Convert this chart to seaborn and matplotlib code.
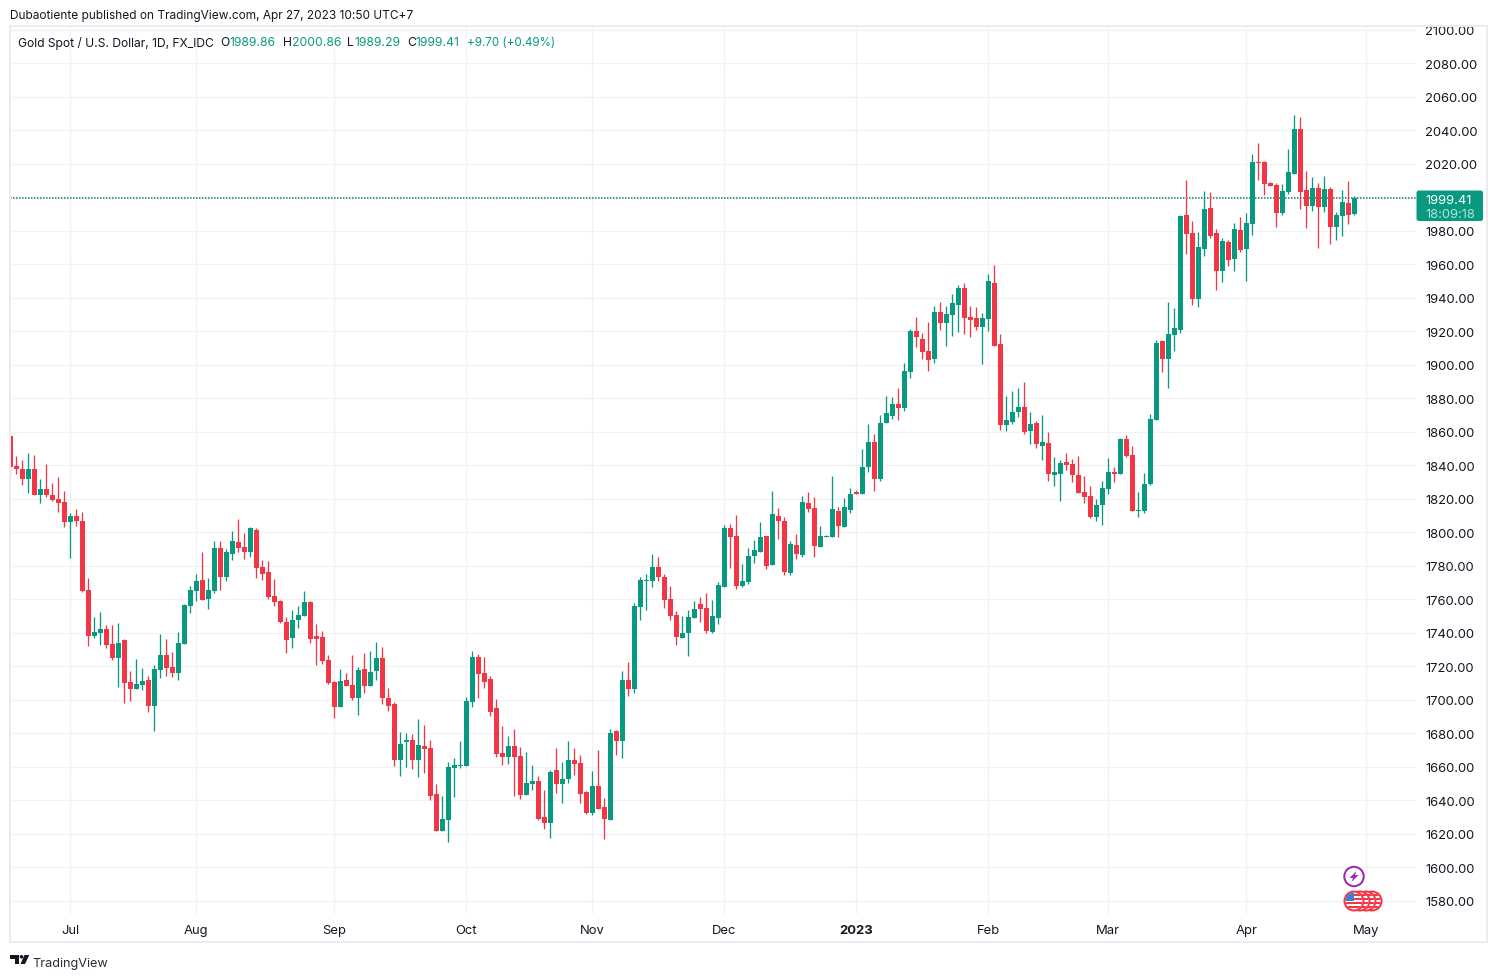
import matplotlib
matplotlib.use("Agg")
import matplotlib.pyplot as plt
from matplotlib.patches import Circle, FancyBboxPatch, Polygon, Rectangle
from matplotlib.transforms import Bbox
import numpy as np
import pandas as pd
import seaborn as sns

opens = [
    1857.4, 1839.3, 1837.5, 1832.1, 1837.5, 1822.0, 1826.1, 1822.5, 1819.6, 1817.8,
    1806.4, 1810.0, 1807.0, 1765.3, 1737.8, 1739.6, 1742.0, 1733.6, 1724.7, 1735.4,
    1710.4, 1706.2, 1708.6, 1711.6, 1696.0, 1717.5, 1726.5, 1719.3, 1715.7, 1733.6,
    1755.7, 1764.7, 1771.8, 1759.9, 1764.7, 1790.9, 1773.6, 1787.3, 1794.5, 1791.5,
    1788.5, 1801.1, 1779.0, 1776.0, 1761.7, 1758.7, 1746.2, 1736.6, 1747.4, 1750.3,
    1758.1, 1737.8, 1737.2, 1723.5, 1710.9, 1695.4, 1712.1, 1709.1, 1700.8, 1718.1,
    1708.0, 1716.9, 1724.7, 1700.8, 1697.2, 1663.8, 1674.5, 1675.7, 1663.8, 1672.7,
    1671.0, 1643.5, 1621.4, 1628.0, 1659.0, 1660.2, 1660.2, 1698.4, 1725.3, 1715.7,
    1712.7, 1694.8, 1668.0, 1665.6, 1672.7, 1666.2, 1642.9, 1649.5, 1651.3, 1629.8,
    1626.2, 1657.8, 1649.5, 1652.5, 1663.8, 1662.0, 1644.7, 1632.2, 1648.3, 1635.8,
    1628.0, 1681.1, 1675.1, 1712.1, 1706.5, 1755.4, 1771.0, 1771.0, 1779.3, 1773.4,
    1760.2, 1750.7, 1736.9, 1739.9, 1748.9, 1757.2, 1754.9, 1740.5, 1748.9, 1767.4,
    1802.6, 1797.8, 1768.0, 1770.4, 1785.9, 1788.3, 1797.8, 1780.5, 1809.8, 1806.8,
    1775.7, 1792.4, 1786.5, 1817.5, 1814.5, 1791.3, 1797.2, 1797.2, 1812.7, 1803.2,
    1813.3, 1823.7, 1823.1, 1839.2, 1854.1, 1832.1, 1865.5, 1869.6, 1876.8, 1874.4,
    1895.9, 1920.4, 1915.6, 1908.4, 1903.7, 1931.7, 1925.1, 1929.9, 1935.9, 1946.0,
    1928.7, 1928.1, 1922.8, 1927.5, 1949.0, 1912.6, 1864.3, 1866.1, 1872.0, 1875.0,
    1860.7, 1865.5, 1851.7, 1853.5, 1834.4, 1835.0, 1842.2, 1841.0, 1834.4, 1824.3,
    1821.9, 1809.4, 1816.5, 1826.1, 1836.2, 1835.0, 1855.9, 1846.4, 1812.9, 1812.9,
    1828.9, 1867.1, 1914.2, 1903.5, 1917.8, 1920.8, 1989.4, 1978.6, 1939.3, 1969.1,
    1993.6, 1978.6, 1956.0, 1973.3, 1963.1, 1980.4, 1969.1, 1984.0, 2021.0, 2021.0,
    2008.5, 2007.3, 1990.6, 2003.1, 2013.8, 2040.7, 2004.3, 1994.8, 2005.5, 1994.2,
    2004.9, 1982.2, 1988.8, 1996.5, 1989.86,
]
highs = [
    1857.8, 1845.8, 1843.4, 1847.6, 1846.4, 1832.1, 1841.0, 1829.7, 1833.3, 1824.9,
    1811.8, 1814.2, 1812.4, 1773.0, 1749.2, 1752.7, 1744.4, 1744.4, 1745.6, 1736.0,
    1717.0, 1724.1, 1718.7, 1714.5, 1720.5, 1739.0, 1736.0, 1728.3, 1740.2, 1756.9,
    1767.7, 1775.4, 1788.0, 1773.0, 1795.1, 1795.1, 1790.1, 1800.5, 1808.2, 1799.3,
    1802.9, 1802.3, 1783.2, 1782.6, 1772.4, 1759.3, 1749.2, 1753.9, 1755.7, 1765.2,
    1758.7, 1745.5, 1740.8, 1726.5, 1711.5, 1718.1, 1715.7, 1727.0, 1719.3, 1728.2,
    1729.4, 1734.8, 1731.8, 1706.8, 1698.4, 1680.5, 1679.9, 1679.3, 1688.3, 1684.7,
    1675.7, 1649.5, 1642.3, 1662.6, 1665.0, 1675.1, 1701.4, 1729.4, 1727.6, 1725.3,
    1714.5, 1700.2, 1684.1, 1678.1, 1682.3, 1671.6, 1668.6, 1660.8, 1654.2, 1645.9,
    1657.8, 1671.0, 1662.6, 1675.1, 1671.0, 1666.8, 1645.3, 1657.2, 1669.8, 1641.1,
    1682.3, 1681.7, 1716.9, 1722.3, 1757.8, 1773.4, 1775.1, 1787.1, 1785.3, 1775.1,
    1768.0, 1753.1, 1750.1, 1753.7, 1759.0, 1761.4, 1763.8, 1759.6, 1770.4, 1804.4,
    1805.0, 1810.3, 1781.1, 1790.7, 1795.4, 1806.2, 1797.8, 1824.7, 1814.5, 1809.2,
    1794.8, 1799.0, 1821.7, 1824.1, 1821.1, 1803.8, 1798.4, 1833.6, 1815.1, 1820.5,
    1826.5, 1825.5, 1849.9, 1864.9, 1858.9, 1870.2, 1881.6, 1881.0, 1886.4, 1901.3,
    1921.6, 1928.7, 1919.2, 1925.7, 1935.3, 1937.7, 1935.3, 1942.4, 1947.8, 1949.0,
    1935.3, 1934.7, 1931.1, 1954.4, 1959.7, 1918.6, 1881.6, 1884.6, 1886.4, 1889.9,
    1872.0, 1866.7, 1870.2, 1860.1, 1845.2, 1843.4, 1847.6, 1844.0, 1845.8, 1833.8,
    1827.9, 1820.1, 1830.9, 1844.6, 1839.2, 1856.5, 1858.3, 1851.7, 1824.3, 1835.6,
    1870.7, 1914.9, 1914.8, 1937.5, 1933.9, 1989.4, 2010.3, 1985.8, 1979.2, 2003.7,
    2003.1, 1981.0, 1975.7, 1974.5, 1984.6, 1988.2, 1990.6, 2025.8, 2032.3, 2021.6,
    2009.1, 2008.5, 2007.9, 2028.8, 2049.1, 2047.9, 2015.6, 2012.1, 2008.5, 2012.7,
    2006.1, 1991.2, 2004.3, 2009.7, 2000.86,
]
lows = [
    1834.1, 1835.1, 1828.5, 1823.7, 1822.5, 1817.2, 1820.8, 1818.4, 1812.4, 1802.9,
    1784.4, 1804.0, 1764.1, 1732.4, 1736.6, 1733.0, 1731.2, 1723.5, 1707.4, 1697.8,
    1699.0, 1706.2, 1705.6, 1692.5, 1681.1, 1712.8, 1714.5, 1713.9, 1711.6, 1733.6,
    1752.1, 1758.7, 1759.3, 1754.5, 1763.5, 1765.3, 1771.2, 1783.2, 1788.0, 1783.8,
    1785.0, 1773.0, 1771.8, 1759.9, 1755.7, 1745.6, 1727.7, 1730.7, 1742.6, 1750.3,
    1734.2, 1720.5, 1721.1, 1709.7, 1688.9, 1695.4, 1708.0, 1699.6, 1691.2, 1703.8,
    1708.0, 1712.1, 1697.2, 1693.6, 1660.2, 1654.2, 1659.6, 1658.4, 1653.7, 1656.0,
    1639.9, 1621.4, 1621.4, 1614.9, 1641.7, 1659.0, 1660.2, 1695.4, 1700.8, 1706.8,
    1690.6, 1665.6, 1660.8, 1661.4, 1642.3, 1640.5, 1642.9, 1645.9, 1628.0, 1622.6,
    1617.3, 1644.1, 1638.1, 1650.1, 1654.8, 1638.1, 1631.6, 1631.0, 1634.6, 1616.7,
    1628.0, 1666.8, 1665.0, 1702.0, 1704.1, 1747.7, 1753.7, 1767.4, 1771.0, 1754.9,
    1747.7, 1732.8, 1736.9, 1726.2, 1748.9, 1746.5, 1739.9, 1739.9, 1745.3, 1767.4,
    1778.7, 1766.2, 1767.4, 1769.2, 1781.7, 1788.3, 1778.1, 1780.5, 1796.0, 1774.6,
    1774.6, 1784.1, 1785.3, 1812.1, 1785.3, 1791.3, 1797.2, 1797.2, 1797.2, 1803.2,
    1811.5, 1823.1, 1823.1, 1836.2, 1824.9, 1830.9, 1865.5, 1867.9, 1867.3, 1872.6,
    1892.3, 1910.8, 1903.7, 1896.5, 1901.3, 1921.0, 1911.4, 1917.4, 1919.8, 1918.6,
    1916.8, 1921.0, 1900.7, 1920.4, 1911.4, 1861.3, 1860.7, 1864.9, 1869.0, 1858.9,
    1852.9, 1850.6, 1843.4, 1830.9, 1827.9, 1818.9, 1837.4, 1830.3, 1823.7, 1817.7,
    1808.8, 1807.0, 1804.6, 1823.1, 1830.3, 1835.0, 1845.2, 1812.9, 1809.4, 1811.8,
    1828.3, 1867.1, 1895.7, 1886.2, 1908.2, 1919.0, 1966.1, 1935.7, 1934.5, 1964.9,
    1975.7, 1944.6, 1949.4, 1959.0, 1956.0, 1967.3, 1950.0, 1977.4, 2010.3, 2001.3,
    2006.7, 1982.2, 1989.4, 2001.9, 2013.8, 1993.0, 1981.6, 1991.8, 1969.7, 1991.2,
    1972.1, 1974.5, 1976.9, 1984.0, 1989.29,
]
closes = [
    1838.9, 1837.5, 1832.1, 1837.5, 1822.5, 1826.1, 1822.0, 1819.0, 1817.2, 1806.4,
    1810.0, 1807.0, 1764.7, 1737.8, 1740.2, 1742.0, 1733.0, 1724.7, 1734.2, 1709.8,
    1706.2, 1709.2, 1711.0, 1696.0, 1718.1, 1726.5, 1718.7, 1715.7, 1734.2, 1756.3,
    1765.3, 1771.2, 1759.3, 1765.3, 1790.9, 1773.6, 1788.0, 1795.1, 1790.9, 1788.5,
    1802.3, 1778.4, 1775.4, 1761.1, 1758.1, 1746.2, 1735.4, 1747.9, 1750.9, 1758.1,
    1736.0, 1736.0, 1722.9, 1710.3, 1695.4, 1711.5, 1708.0, 1700.8, 1717.5, 1708.0,
    1716.3, 1724.7, 1700.8, 1696.0, 1663.8, 1673.9, 1675.7, 1663.8, 1673.3, 1670.4,
    1642.3, 1621.4, 1628.6, 1659.6, 1660.8, 1660.8, 1699.0, 1725.3, 1715.1, 1710.9,
    1693.0, 1667.4, 1665.6, 1672.7, 1665.6, 1642.9, 1650.1, 1651.3, 1628.6, 1626.2,
    1656.6, 1649.5, 1653.0, 1663.8, 1661.4, 1643.5, 1632.2, 1648.3, 1634.6, 1628.6,
    1679.9, 1675.1, 1712.1, 1706.2, 1756.0, 1771.6, 1771.6, 1779.3, 1773.4, 1759.6,
    1750.1, 1737.6, 1739.9, 1749.5, 1754.3, 1754.3, 1741.1, 1750.1, 1768.6, 1802.6,
    1797.2, 1768.0, 1771.0, 1785.9, 1789.5, 1797.2, 1779.9, 1810.9, 1806.8, 1776.3,
    1793.0, 1787.1, 1818.1, 1813.9, 1791.9, 1797.8, 1797.8, 1813.9, 1803.8, 1815.1,
    1822.9, 1823.1, 1839.2, 1854.1, 1832.1, 1865.5, 1871.4, 1876.8, 1874.4, 1896.5,
    1920.4, 1916.8, 1907.8, 1903.1, 1931.7, 1925.1, 1930.5, 1937.1, 1946.0, 1928.1,
    1926.9, 1922.8, 1928.1, 1950.2, 1911.4, 1864.3, 1867.3, 1872.0, 1875.0, 1860.1,
    1864.9, 1852.9, 1854.1, 1835.0, 1836.2, 1841.6, 1840.4, 1834.4, 1823.7, 1821.3,
    1809.4, 1816.5, 1826.7, 1836.2, 1835.0, 1855.9, 1845.8, 1812.9, 1813.5, 1829.1,
    1867.7, 1913.1, 1903.5, 1918.4, 1922.0, 1988.8, 1978.0, 1939.3, 1970.3, 1993.0,
    1976.8, 1956.0, 1973.9, 1962.5, 1981.0, 1968.5, 1984.6, 2021.0, 2020.4, 2007.9,
    2006.7, 1990.6, 2003.7, 2015.0, 2040.7, 2003.1, 1994.8, 2005.5, 1994.2, 2004.9,
    1982.2, 1989.4, 1997.1, 1989.4, 1999.41,
]

month_bars = [10, 31, 54, 76, 97, 119, 141, 163, 183, 206, 226]
month_labels = ["Jul", "Aug", "Sep", "Oct", "Nov", "Dec", "2023", "Feb", "Mar", "Apr", "May"]
price_ticks = list(range(1580, 2101, 20))
last_price = 1999.41

GREEN = "#089981"
RED = "#F23645"
GRID = "#f1f2f6"
BORDER = "#ebebf1"
TEXT = "#131722"

sns.set_theme(style="white", rc={"axes.grid": False})
plt.rcParams["font.family"] = ["Inter", "DejaVu Sans"]


def px(size):
    # sizes below are measured in screen pixels
    return size * 0.72


df = pd.DataFrame({"bar": np.arange(len(opens)), "open": opens, "high": highs, "low": lows, "close": closes})
df["top"] = df[["open", "close"]].max(axis=1)
df["bottom"] = df[["open", "close"]].min(axis=1)
# very small bodies still show as a one pixel dash
df["height"] = (df["top"] - df["bottom"]).clip(lower=0.7)
df["up"] = df["close"] >= df["open"]

fig = plt.figure(figsize=(14.97, 9.78), dpi=100)
ax = fig.add_axes([10 / 1497, 1 - 915 / 978, 1407 / 1497, 887 / 978])

for is_up, color in [(True, GREEN), (False, RED)]:
    part = df[df["up"] == is_up]
    ax.vlines(part["bar"], part["low"], part["high"], color=color, linewidth=px(1.3), zorder=3)
    sns.barplot(data=part, x="bar", y="height", bottom=part["bottom"].values, native_scale=True,
                width=5 / 6, color=color, saturation=1, errorbar=None, linewidth=0, zorder=4, ax=ax)

# dotted last price line runs under the candles
ax.axhline(last_price, color="#0b7f6d", linewidth=px(1.5), linestyle=(0, (1, 1)), zorder=2)

ax.set_xlim(-0.05, 234.45)
ax.set_ylim(1572.1, 2101.7)
ax.set_xlabel("")
ax.set_ylabel("")
ax.set_xticks(month_bars, month_labels)
# the 2000 label sits behind the last price tag in the reference
ax.set_yticks(price_ticks, ["" if p == 2000 else f"{p:.2f}" for p in price_ticks])
ax.yaxis.tick_right()
ax.grid(True, color=GRID, linewidth=px(1.2), zorder=0)
ax.set_axisbelow(True)
ax.tick_params(axis="both", length=0, labelsize=px(13), labelcolor=TEXT)
ax.tick_params(axis="x", pad=px(10))
ax.tick_params(axis="y", pad=px(8))
sns.despine(ax=ax, left=True, right=True, top=True, bottom=True)
for label in ax.get_xticklabels():
    if label.get_text() == "2023":
        label.set_fontweight("bold")
for label in ax.get_yticklabels():
    label.set_verticalalignment("center_baseline")
    label.set_clip_on(True)
    label.set_clip_box(Bbox([[1417, 0], [1497, 978 - 27.5]]))

# overlay in screen pixels for the frame and the page furniture
over = fig.add_axes([0, 0, 1, 1])
over.set_xlim(0, 1497)
over.set_ylim(978, 0)
over.axis("off")
over.patch.set_alpha(0)

over.add_patch(Rectangle((10, 27), 1477, 915.5, fill=False, edgecolor=BORDER, linewidth=px(2)))

over.text(10, 16, "Dubaotiente published on TradingView.com, Apr 27, 2023 10:50 UTC+7",
          fontsize=px(11.85), color=TEXT, va="center")
over.text(18, 43.5, "Gold Spot / U.S. Dollar, 1D, FX_IDC", fontsize=px(12.1), color=TEXT, va="center")
for x, name in [(220, "O"), (283, "H"), (347, "L"), (407, "C")]:
    over.text(x, 43.5, name, fontsize=px(12.1), color=TEXT, va="center")
for x, value in [(229.5, "1989.86"), (292, "2000.86"), (354, "1989.29"), (415.5, "1999.41")]:
    over.text(x, 43.5, value, fontsize=px(12.2), color=GREEN, va="center")
over.text(467, 43.5, "+9.70 (+0.49%)", fontsize=px(11.6), color=GREEN, va="center")

# last price tag
over.add_patch(FancyBboxPatch((1417, 192), 65.5, 29.5, boxstyle="round,pad=0,rounding_size=2",
                              facecolor=GREEN, edgecolor=GREEN, linewidth=px(1)))
over.text(1425.5, 200.5, "1999.41", fontsize=px(13), color="white", va="center")
over.text(1425.5, 214.5, "18:09:18", fontsize=px(13), color="#b5e0d8", va="center")

# event markers at the bottom right
over.add_patch(Circle((1354, 877.5), 9.7, facecolor="white", edgecolor="#9c27b0", linewidth=px(2)))
over.add_patch(Polygon([(1356.5, 872), (1349.5, 879), (1353, 879), (1351.5, 883),
                        (1358.5, 876), (1355, 876)], closed=True, facecolor="#9c27b0", edgecolor="none"))
for cx in [1372, 1366, 1360, 1354]:
    disc = Circle((cx, 902), 9.5, facecolor="white", edgecolor=RED, linewidth=px(2), zorder=6)
    over.add_patch(disc)
    for sy in [-7, -3, 1, 5]:
        stripe = Rectangle((cx - 10, 902 + sy), 20, 2.2, facecolor="#f23645", edgecolor="none", zorder=6)
        over.add_patch(stripe)
        stripe.set_clip_path(Circle((cx, 902), 8.5, transform=over.transData))
    canton = Rectangle((cx - 10, 892.5), 9.5, 9, facecolor="#3d7fd6", edgecolor="none", zorder=6)
    over.add_patch(canton)
    canton.set_clip_path(Circle((cx, 902), 8.5, transform=over.transData))

# TradingView logo and name
over.add_patch(Polygon([(10, 956), (19, 956), (19, 965), (15, 965), (15, 959.5), (10, 959.5)],
                       closed=True, facecolor=TEXT, edgecolor="none"))
over.add_patch(Circle((21.5, 957.8), 1.8, facecolor=TEXT, edgecolor="none"))
over.add_patch(Polygon([(24.5, 956), (29.3, 956), (25, 965), (20.5, 965)],
                       closed=True, facecolor=TEXT, edgecolor="none"))
over.text(32, 963.5, "TradingView", fontsize=px(12.7), color="#2a2e39", va="center")

fig.savefig("out.png", dpi=100, facecolor="white")
